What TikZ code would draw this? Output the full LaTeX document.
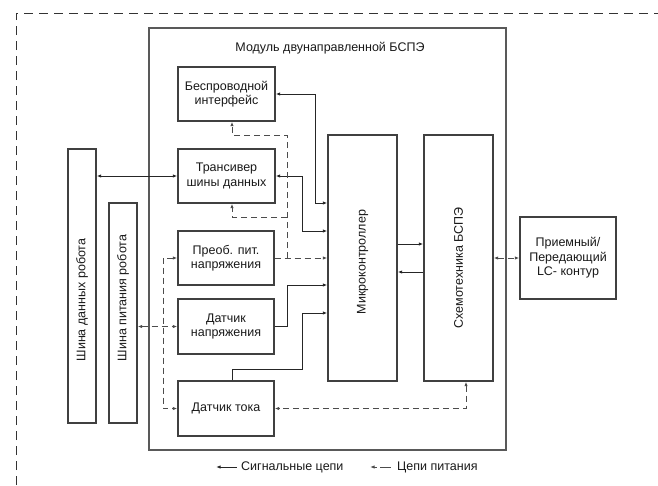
\documentclass[tikz,border=0pt]{standalone}
\usepackage{fontspec}
\setmainfont{Liberation Sans}
\usetikzlibrary{arrows.meta,calc}
\begin{document}
\begin{tikzpicture}[x=1pt,y=-1pt,
  box/.style={draw=black!75,line width=1.2pt,inner sep=0pt,align=center,
    font=\fontsize{12.5}{14.5}\selectfont,text=black!90},
  sig/.style={draw=black!85,line width=0.95pt,>={Latex[length=4.6pt,width=3.4pt]}},
  pw/.style={draw=black!70,line width=1pt,dash pattern=on 6pt off 4pt,>={Latex[length=4.6pt,width=3.4pt]}},
  txt/.style={inner sep=0pt,font=\fontsize{12.5}{14.5}\selectfont,text=black!90}]
\useasboundingbox (0,0) rectangle (658,485);
% outer dashed frame
\coordinate (fa) at (16,485);
\coordinate (fb) at (16,13);
\coordinate (fc) at (658,13);
\draw[black!80,line width=1pt,dash pattern=on 9pt off 6pt] (fa) -- (fb) -- (fc);
% module
\node[draw=black!65,line width=1.2pt,minimum width=357pt,minimum height=422pt,inner sep=0pt] (mod) at (327.5,239) {};
\node[txt] (title) at (330,48) {Модуль двунаправленной БСПЭ};
% boxes
\node[box,minimum width=97pt,minimum height=54pt] (bw) at (226.5,94) {Беспроводной\\интерфейс};
\node[box,minimum width=97pt,minimum height=54pt] (tr) at (226.5,176) {Трансивер\\шины данных};
\node[box,minimum width=96pt,minimum height=54pt] (pr) at (226,258) {Преоб. пит.\\напряжения};
\node[box,minimum width=96pt,minimum height=55pt] (dn) at (226,326.5) {Датчик\\напряжения};
\node[box,minimum width=96pt,minimum height=55pt] (dt) at (226,408.5) {Датчик тока};
\node[box,minimum width=69pt,minimum height=246pt] (mc) at (362.5,258) {};
\node[txt,rotate=90] (mct) at (362.5,262) {Микроконтроллер};
\node[box,minimum width=69pt,minimum height=246pt] (sx) at (458.5,258) {};
\node[txt,rotate=90] (sxt) at (458.5,268) {Схемотехника БСПЭ};
\node[box,minimum width=96pt,minimum height=82pt] (lc) at (568,258) {Приемный/\\Передающий\\LC- контур};
\node[box,minimum width=28pt,minimum height=274pt] (sd) at (82,286) {};
\node[txt,rotate=90] (sdt) at (82,300) {Шина данных робота};
\node[box,minimum width=28pt,minimum height=220pt] (sp) at (123,313) {};
\node[txt,rotate=90] (spt) at (123,298) {Шина питания робота};
% helper coordinates
\coordinate (x1) at (315,203);
\coordinate (x2) at (302,231);
\coordinate (x3) at (287,285);
\coordinate (x4a) at (232,369);
\coordinate (x4) at (302,313);
\coordinate (x5) at (287,135);
\coordinate (x6) at (287,217);
\coordinate (px) at (232,0);
\coordinate (vx) at (163,0);
\coordinate (x7) at (466,0);
\coordinate (y1) at (0,244);
\coordinate (y2) at (0,272);
% signal connectors
\draw[sig,<->] (sd.east |- tr.west) -- (tr.west);
\draw[sig,<->] (bw.east) -| (x1) -- (mc.west |- x1);
\draw[sig,<->] (tr.east) -| (x2) -- (mc.west |- x2);
\draw[sig,->] (dn.east) -| (x3) -- (mc.west |- x3);
\draw[sig,->] (dt.north -| x4a) -- (x4a) -| (x4) -- (mc.west |- x4);
\draw[sig,->] (mc.east |- y1) -- (sx.west |- y1);
\draw[sig,->] (sx.west |- y2) -- (mc.east |- y2);
% power connectors
\draw[pw,<->] (sp.east |- dn.west) -- (dn.west);
\draw[pw,<->] (pr.west) -- (vx |- pr.west) -- (vx |- dt.west) -- (dt.west);
\draw[pw,->] (pr.east) -- (mc.west |- pr.east);
\draw[pw,->] (x5 |- pr.east) -- (x5) -| (px |- bw.south);
\draw[pw,->] (x6) -| (px |- tr.south);
\draw[pw,<->] (sx.east) -- (lc.west);
\draw[pw,<->] (x7 |- sx.south) |- (dt.east);
% legend
\coordinate (la) at (216,467);
\coordinate (lb) at (237,467);
\coordinate (lc1) at (370,467);
\coordinate (ld) at (393,467);
\draw[sig,<-] (la) -- (lb);
\node[txt,anchor=west] (lt1) at (241,467) {Сигнальные цепи};
\draw[pw,dash pattern=on 3pt off 3pt on 8pt off 0pt,<-] (lc1) -- (ld);
\node[txt,anchor=west] (lt2) at (397,467) {Цепи питания};
\end{tikzpicture}
\end{document}
